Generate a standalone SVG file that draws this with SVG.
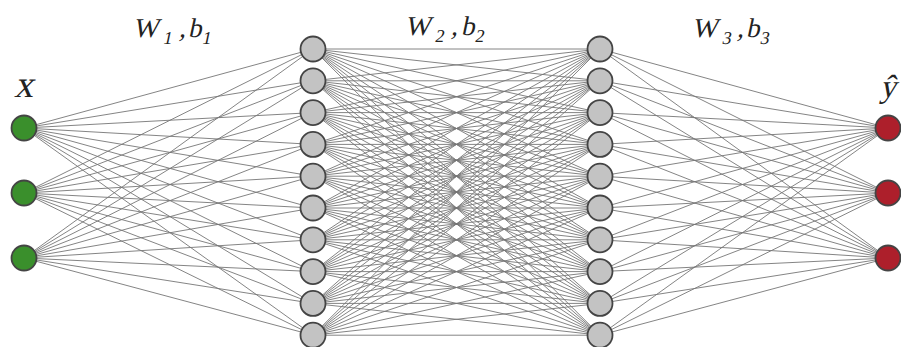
<svg xmlns="http://www.w3.org/2000/svg" width="901" height="347" viewBox="0 0 901 347">
<style>
.e{stroke:#767676;stroke-width:0.9;fill:none}
.n{stroke:#444;stroke-width:1.8}
.in{fill:#3a8f2c}
.hd{fill:#c3c3c3}
.out{fill:#ad1f2b}
text{font-family:"Liberation Serif","DejaVu Serif",serif;fill:#222}
</style>
<rect width="901" height="347" fill="#fff"/>
<g id="connectors" class="e">
<line x1="24" y1="128" x2="313" y2="49"/><line x1="24" y1="128" x2="313" y2="80.8"/><line x1="24" y1="128" x2="313" y2="112.6"/><line x1="24" y1="128" x2="313" y2="144.4"/><line x1="24" y1="128" x2="313" y2="176.2"/><line x1="24" y1="128" x2="313" y2="208"/><line x1="24" y1="128" x2="313" y2="239.8"/><line x1="24" y1="128" x2="313" y2="271.6"/><line x1="24" y1="128" x2="313" y2="303.4"/><line x1="24" y1="128" x2="313" y2="335.2"/>
<line x1="24" y1="193" x2="313" y2="49"/><line x1="24" y1="193" x2="313" y2="80.8"/><line x1="24" y1="193" x2="313" y2="112.6"/><line x1="24" y1="193" x2="313" y2="144.4"/><line x1="24" y1="193" x2="313" y2="176.2"/><line x1="24" y1="193" x2="313" y2="208"/><line x1="24" y1="193" x2="313" y2="239.8"/><line x1="24" y1="193" x2="313" y2="271.6"/><line x1="24" y1="193" x2="313" y2="303.4"/><line x1="24" y1="193" x2="313" y2="335.2"/>
<line x1="24" y1="258" x2="313" y2="49"/><line x1="24" y1="258" x2="313" y2="80.8"/><line x1="24" y1="258" x2="313" y2="112.6"/><line x1="24" y1="258" x2="313" y2="144.4"/><line x1="24" y1="258" x2="313" y2="176.2"/><line x1="24" y1="258" x2="313" y2="208"/><line x1="24" y1="258" x2="313" y2="239.8"/><line x1="24" y1="258" x2="313" y2="271.6"/><line x1="24" y1="258" x2="313" y2="303.4"/><line x1="24" y1="258" x2="313" y2="335.2"/>
<line x1="313" y1="49" x2="600" y2="49"/><line x1="313" y1="49" x2="600" y2="80.8"/><line x1="313" y1="49" x2="600" y2="112.6"/><line x1="313" y1="49" x2="600" y2="144.4"/><line x1="313" y1="49" x2="600" y2="176.2"/><line x1="313" y1="49" x2="600" y2="208"/><line x1="313" y1="49" x2="600" y2="239.8"/><line x1="313" y1="49" x2="600" y2="271.6"/><line x1="313" y1="49" x2="600" y2="303.4"/><line x1="313" y1="49" x2="600" y2="335.2"/>
<line x1="313" y1="80.8" x2="600" y2="49"/><line x1="313" y1="80.8" x2="600" y2="80.8"/><line x1="313" y1="80.8" x2="600" y2="112.6"/><line x1="313" y1="80.8" x2="600" y2="144.4"/><line x1="313" y1="80.8" x2="600" y2="176.2"/><line x1="313" y1="80.8" x2="600" y2="208"/><line x1="313" y1="80.8" x2="600" y2="239.8"/><line x1="313" y1="80.8" x2="600" y2="271.6"/><line x1="313" y1="80.8" x2="600" y2="303.4"/><line x1="313" y1="80.8" x2="600" y2="335.2"/>
<line x1="313" y1="112.6" x2="600" y2="49"/><line x1="313" y1="112.6" x2="600" y2="80.8"/><line x1="313" y1="112.6" x2="600" y2="112.6"/><line x1="313" y1="112.6" x2="600" y2="144.4"/><line x1="313" y1="112.6" x2="600" y2="176.2"/><line x1="313" y1="112.6" x2="600" y2="208"/><line x1="313" y1="112.6" x2="600" y2="239.8"/><line x1="313" y1="112.6" x2="600" y2="271.6"/><line x1="313" y1="112.6" x2="600" y2="303.4"/><line x1="313" y1="112.6" x2="600" y2="335.2"/>
<line x1="313" y1="144.4" x2="600" y2="49"/><line x1="313" y1="144.4" x2="600" y2="80.8"/><line x1="313" y1="144.4" x2="600" y2="112.6"/><line x1="313" y1="144.4" x2="600" y2="144.4"/><line x1="313" y1="144.4" x2="600" y2="176.2"/><line x1="313" y1="144.4" x2="600" y2="208"/><line x1="313" y1="144.4" x2="600" y2="239.8"/><line x1="313" y1="144.4" x2="600" y2="271.6"/><line x1="313" y1="144.4" x2="600" y2="303.4"/><line x1="313" y1="144.4" x2="600" y2="335.2"/>
<line x1="313" y1="176.2" x2="600" y2="49"/><line x1="313" y1="176.2" x2="600" y2="80.8"/><line x1="313" y1="176.2" x2="600" y2="112.6"/><line x1="313" y1="176.2" x2="600" y2="144.4"/><line x1="313" y1="176.2" x2="600" y2="176.2"/><line x1="313" y1="176.2" x2="600" y2="208"/><line x1="313" y1="176.2" x2="600" y2="239.8"/><line x1="313" y1="176.2" x2="600" y2="271.6"/><line x1="313" y1="176.2" x2="600" y2="303.4"/><line x1="313" y1="176.2" x2="600" y2="335.2"/>
<line x1="313" y1="208" x2="600" y2="49"/><line x1="313" y1="208" x2="600" y2="80.8"/><line x1="313" y1="208" x2="600" y2="112.6"/><line x1="313" y1="208" x2="600" y2="144.4"/><line x1="313" y1="208" x2="600" y2="176.2"/><line x1="313" y1="208" x2="600" y2="208"/><line x1="313" y1="208" x2="600" y2="239.8"/><line x1="313" y1="208" x2="600" y2="271.6"/><line x1="313" y1="208" x2="600" y2="303.4"/><line x1="313" y1="208" x2="600" y2="335.2"/>
<line x1="313" y1="239.8" x2="600" y2="49"/><line x1="313" y1="239.8" x2="600" y2="80.8"/><line x1="313" y1="239.8" x2="600" y2="112.6"/><line x1="313" y1="239.8" x2="600" y2="144.4"/><line x1="313" y1="239.8" x2="600" y2="176.2"/><line x1="313" y1="239.8" x2="600" y2="208"/><line x1="313" y1="239.8" x2="600" y2="239.8"/><line x1="313" y1="239.8" x2="600" y2="271.6"/><line x1="313" y1="239.8" x2="600" y2="303.4"/><line x1="313" y1="239.8" x2="600" y2="335.2"/>
<line x1="313" y1="271.6" x2="600" y2="49"/><line x1="313" y1="271.6" x2="600" y2="80.8"/><line x1="313" y1="271.6" x2="600" y2="112.6"/><line x1="313" y1="271.6" x2="600" y2="144.4"/><line x1="313" y1="271.6" x2="600" y2="176.2"/><line x1="313" y1="271.6" x2="600" y2="208"/><line x1="313" y1="271.6" x2="600" y2="239.8"/><line x1="313" y1="271.6" x2="600" y2="271.6"/><line x1="313" y1="271.6" x2="600" y2="303.4"/><line x1="313" y1="271.6" x2="600" y2="335.2"/>
<line x1="313" y1="303.4" x2="600" y2="49"/><line x1="313" y1="303.4" x2="600" y2="80.8"/><line x1="313" y1="303.4" x2="600" y2="112.6"/><line x1="313" y1="303.4" x2="600" y2="144.4"/><line x1="313" y1="303.4" x2="600" y2="176.2"/><line x1="313" y1="303.4" x2="600" y2="208"/><line x1="313" y1="303.4" x2="600" y2="239.8"/><line x1="313" y1="303.4" x2="600" y2="271.6"/><line x1="313" y1="303.4" x2="600" y2="303.4"/><line x1="313" y1="303.4" x2="600" y2="335.2"/>
<line x1="313" y1="335.2" x2="600" y2="49"/><line x1="313" y1="335.2" x2="600" y2="80.8"/><line x1="313" y1="335.2" x2="600" y2="112.6"/><line x1="313" y1="335.2" x2="600" y2="144.4"/><line x1="313" y1="335.2" x2="600" y2="176.2"/><line x1="313" y1="335.2" x2="600" y2="208"/><line x1="313" y1="335.2" x2="600" y2="239.8"/><line x1="313" y1="335.2" x2="600" y2="271.6"/><line x1="313" y1="335.2" x2="600" y2="303.4"/><line x1="313" y1="335.2" x2="600" y2="335.2"/>
<line x1="600" y1="49" x2="888" y2="128"/><line x1="600" y1="80.8" x2="888" y2="128"/><line x1="600" y1="112.6" x2="888" y2="128"/><line x1="600" y1="144.4" x2="888" y2="128"/><line x1="600" y1="176.2" x2="888" y2="128"/><line x1="600" y1="208" x2="888" y2="128"/><line x1="600" y1="239.8" x2="888" y2="128"/><line x1="600" y1="271.6" x2="888" y2="128"/><line x1="600" y1="303.4" x2="888" y2="128"/><line x1="600" y1="335.2" x2="888" y2="128"/>
<line x1="600" y1="49" x2="888" y2="193"/><line x1="600" y1="80.8" x2="888" y2="193"/><line x1="600" y1="112.6" x2="888" y2="193"/><line x1="600" y1="144.4" x2="888" y2="193"/><line x1="600" y1="176.2" x2="888" y2="193"/><line x1="600" y1="208" x2="888" y2="193"/><line x1="600" y1="239.8" x2="888" y2="193"/><line x1="600" y1="271.6" x2="888" y2="193"/><line x1="600" y1="303.4" x2="888" y2="193"/><line x1="600" y1="335.2" x2="888" y2="193"/>
<line x1="600" y1="49" x2="888" y2="258"/><line x1="600" y1="80.8" x2="888" y2="258"/><line x1="600" y1="112.6" x2="888" y2="258"/><line x1="600" y1="144.4" x2="888" y2="258"/><line x1="600" y1="176.2" x2="888" y2="258"/><line x1="600" y1="208" x2="888" y2="258"/><line x1="600" y1="239.8" x2="888" y2="258"/><line x1="600" y1="271.6" x2="888" y2="258"/><line x1="600" y1="303.4" x2="888" y2="258"/><line x1="600" y1="335.2" x2="888" y2="258"/>
</g>
<g id="input-layer">
<g id="in1"><circle class="n in" cx="24" cy="128" r="12.5"/></g>
<g id="in2"><circle class="n in" cx="24" cy="193" r="12.5"/></g>
<g id="in3"><circle class="n in" cx="24" cy="258" r="12.5"/></g>
</g>
<g id="hidden-layer-1">
<g id="h1-1"><circle class="n hd" cx="313" cy="49" r="12.5"/></g>
<g id="h1-2"><circle class="n hd" cx="313" cy="80.8" r="12.5"/></g>
<g id="h1-3"><circle class="n hd" cx="313" cy="112.6" r="12.5"/></g>
<g id="h1-4"><circle class="n hd" cx="313" cy="144.4" r="12.5"/></g>
<g id="h1-5"><circle class="n hd" cx="313" cy="176.2" r="12.5"/></g>
<g id="h1-6"><circle class="n hd" cx="313" cy="208" r="12.5"/></g>
<g id="h1-7"><circle class="n hd" cx="313" cy="239.8" r="12.5"/></g>
<g id="h1-8"><circle class="n hd" cx="313" cy="271.6" r="12.5"/></g>
<g id="h1-9"><circle class="n hd" cx="313" cy="303.4" r="12.5"/></g>
<g id="h1-10"><circle class="n hd" cx="313" cy="335.2" r="12.5"/></g>
</g>
<g id="hidden-layer-2">
<g id="h2-1"><circle class="n hd" cx="600" cy="49" r="12.5"/></g>
<g id="h2-2"><circle class="n hd" cx="600" cy="80.8" r="12.5"/></g>
<g id="h2-3"><circle class="n hd" cx="600" cy="112.6" r="12.5"/></g>
<g id="h2-4"><circle class="n hd" cx="600" cy="144.4" r="12.5"/></g>
<g id="h2-5"><circle class="n hd" cx="600" cy="176.2" r="12.5"/></g>
<g id="h2-6"><circle class="n hd" cx="600" cy="208" r="12.5"/></g>
<g id="h2-7"><circle class="n hd" cx="600" cy="239.8" r="12.5"/></g>
<g id="h2-8"><circle class="n hd" cx="600" cy="271.6" r="12.5"/></g>
<g id="h2-9"><circle class="n hd" cx="600" cy="303.4" r="12.5"/></g>
<g id="h2-10"><circle class="n hd" cx="600" cy="335.2" r="12.5"/></g>
</g>
<g id="output-layer">
<g id="out1"><circle class="n out" cx="888" cy="128" r="12.5"/></g>
<g id="out2"><circle class="n out" cx="888" cy="193" r="12.5"/></g>
<g id="out3"><circle class="n out" cx="888" cy="258" r="12.5"/></g>
</g>
<g id="labels">
<text transform="translate(14,97) skewX(-13)" font-size="38">x</text>
<text transform="translate(880,97) skewX(-13)" font-size="32">ŷ</text>
<text transform="translate(133,37) skewX(-12)" font-size="27"><tspan x="0" y="0">W</tspan><tspan x="31" y="7" font-size="18">1</tspan><tspan x="46" y="0">,</tspan><tspan x="55" y="0">b</tspan><tspan x="70" y="7" font-size="18">1</tspan></text>
<text transform="translate(405,35) skewX(-12)" font-size="27"><tspan x="0" y="0">W</tspan><tspan x="31" y="7" font-size="18">2</tspan><tspan x="46" y="0">,</tspan><tspan x="56" y="0">b</tspan><tspan x="71" y="7" font-size="18">2</tspan></text>
<text transform="translate(692,37) skewX(-12)" font-size="27"><tspan x="0" y="0">W</tspan><tspan x="31" y="7" font-size="18">3</tspan><tspan x="45" y="0">,</tspan><tspan x="54" y="0">b</tspan><tspan x="69" y="7" font-size="18">3</tspan></text>
</g>
</svg>
